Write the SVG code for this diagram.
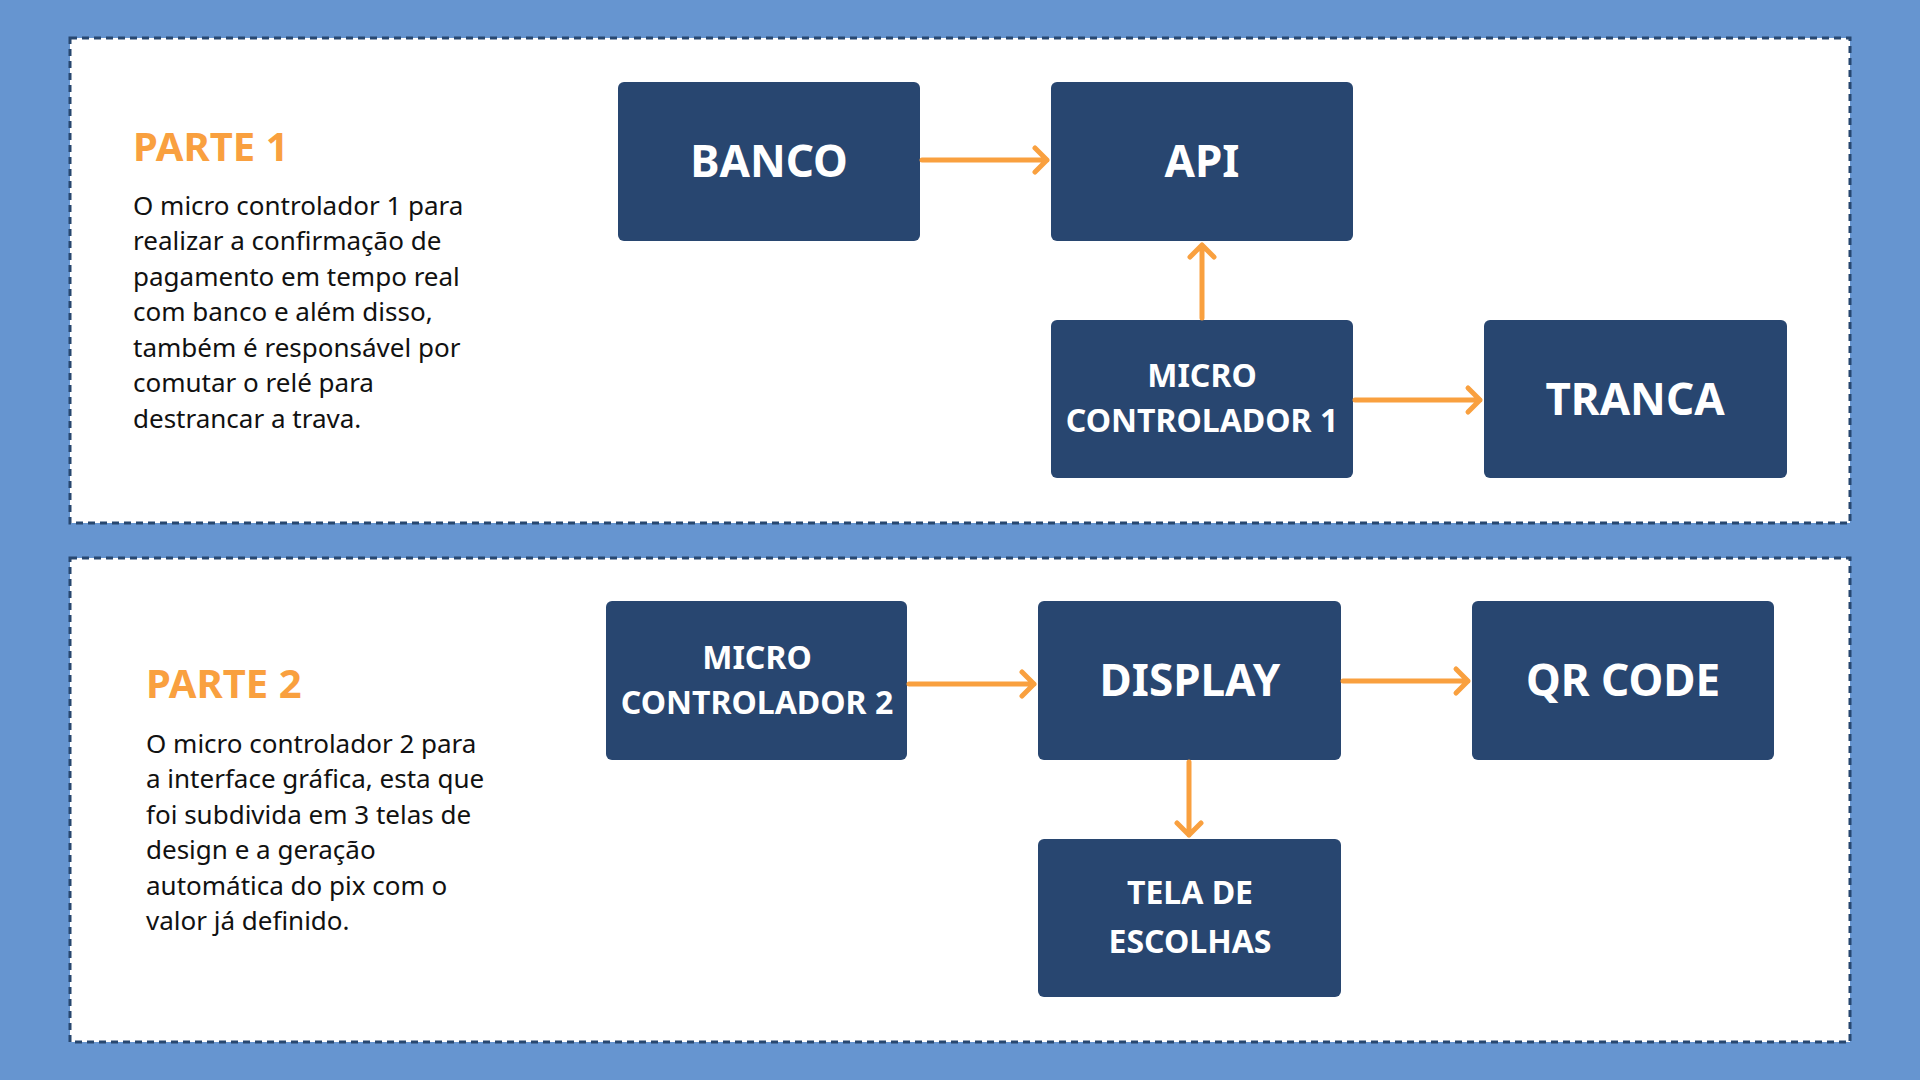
<svg xmlns="http://www.w3.org/2000/svg" width="1920" height="1080" viewBox="0 0 1920 1080">
<style>
.panel{fill:#fff;stroke:#27476f;stroke-width:3;stroke-dasharray:7 5}
.box{fill:#284670;rx:6}
.lbl{font-family:"Noto Sans","DejaVu Sans",sans-serif;font-weight:700;fill:#fff;text-anchor:middle}
.big{font-size:44px}
.sm{font-size:32px}
.head{font-family:"Noto Sans","DejaVu Sans",sans-serif;font-weight:700;fill:#f9a03f;font-size:40px}
.para{font-family:"Noto Sans","DejaVu Sans",sans-serif;fill:#111;font-size:26px}
.con{stroke:#f9a03f;stroke-width:5;fill:none;stroke-linecap:round;stroke-linejoin:round}
</style>
<rect width="1920" height="1080" fill="#6695d0"/>
<rect class="panel" x="70" y="38" width="1780" height="485"/>
<rect class="panel" x="70" y="558" width="1780" height="484"/>
<g id="text1">
<text class="head" x="133" y="161">PARTE 1</text>
<text class="para" x="133" y="215">O micro controlador 1 para</text>
<text class="para" x="133" y="250">realizar a confirmação de</text>
<text class="para" x="133" y="286">pagamento em tempo real</text>
<text class="para" x="133" y="321">com banco e além disso,</text>
<text class="para" x="133" y="357">também é responsável por</text>
<text class="para" x="133" y="392">comutar o relé para</text>
<text class="para" x="133" y="428">destrancar a trava.</text>
</g>
<g id="text2">
<text class="head" x="146" y="698">PARTE 2</text>
<text class="para" x="146" y="753">O micro controlador 2 para</text>
<text class="para" x="146" y="788">a interface gráfica, esta que</text>
<text class="para" x="146" y="824">foi subdivida em 3 telas de</text>
<text class="para" x="146" y="859">design e a geração</text>
<text class="para" x="146" y="895">automática do pix com o</text>
<text class="para" x="146" y="930">valor já definido.</text>
</g>
<g id="banco"><rect class="box" x="618" y="82" width="302" height="159"/><text class="lbl big" x="769" y="177">BANCO</text></g>
<g id="api"><rect class="box" x="1051" y="82" width="302" height="159"/><text class="lbl big" x="1202" y="177">API</text></g>
<g id="micro1"><rect class="box" x="1051" y="320" width="302" height="158"/><text class="lbl sm" x="1202" y="387">MICRO</text><text class="lbl sm" x="1202" y="432">CONTROLADOR 1</text></g>
<g id="tranca"><rect class="box" x="1484" y="320" width="303" height="158"/><text class="lbl big" x="1635" y="415">TRANCA</text></g>
<g id="micro2"><rect class="box" x="606" y="601" width="301" height="159"/><text class="lbl sm" x="757" y="669">MICRO</text><text class="lbl sm" x="757" y="714">CONTROLADOR 2</text></g>
<g id="display"><rect class="box" x="1038" y="601" width="303" height="159"/><text class="lbl big" x="1190" y="696">DISPLAY</text></g>
<g id="qrcode"><rect class="box" x="1472" y="601" width="302" height="159"/><text class="lbl big" x="1623" y="696">QR CODE</text></g>
<g id="tela"><rect class="box" x="1038" y="839" width="303" height="158"/><text class="lbl sm" x="1190" y="904">TELA DE</text><text class="lbl sm" x="1190" y="953">ESCOLHAS</text></g>
<g id="connectors">
<path class="con" d="M922 160H1047M1035 148L1047 160L1035 172"/>
<path class="con" d="M1202 318V245M1190 257L1202 245L1214 257"/>
<path class="con" d="M1355 400H1480M1468 388L1480 400L1468 412"/>
<path class="con" d="M909 684H1034M1022 672L1034 684L1022 696"/>
<path class="con" d="M1343 681H1468M1456 669L1468 681L1456 693"/>
<path class="con" d="M1189 762V835M1177 823L1189 835L1201 823"/>
</g>
</svg>
